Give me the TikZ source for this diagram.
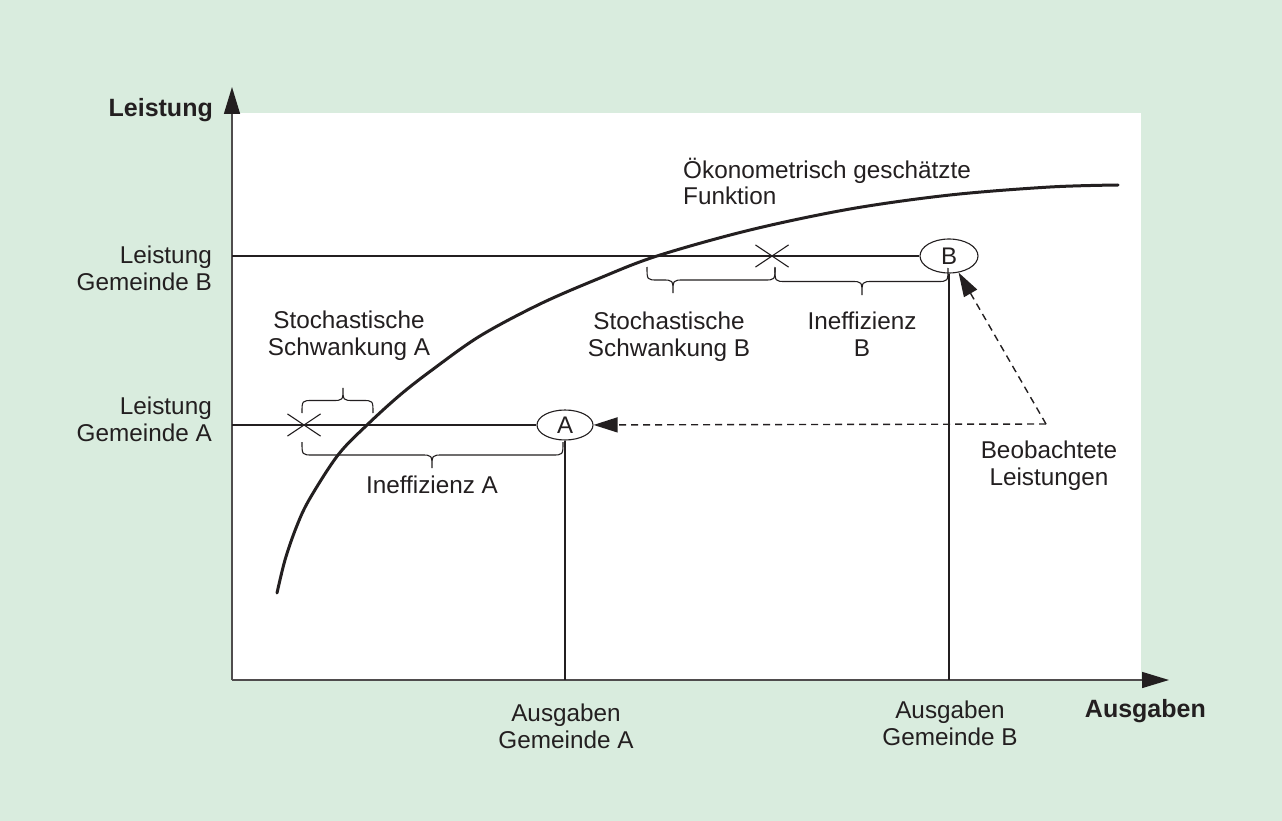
\documentclass[tikz,border=0pt]{standalone}
\usepackage{fontspec}
\setmainfont{Liberation Sans}
\usetikzlibrary{arrows.meta,shapes.geometric,shapes.misc}
\definecolor{bggreen}{RGB}{217,236,222}
\definecolor{ink}{RGB}{35,31,32}
\newcommand\mybrace[5]{%
  \draw[bracestyle] ({#1},{#4}) .. controls ({#1},{#4+(#5)/2}) .. ({#1+11},{#4+(#5)/2})
    -- ({#3-11},{#4+(#5)/2}) .. controls ({#3},{#4+(#5)/2}) .. ({#3},{#4+(#5)})
    .. controls ({#3},{#4+(#5)/2}) .. ({#3+11},{#4+(#5)/2})
    -- ({#2-11},{#4+(#5)/2}) .. controls ({#2},{#4+(#5)/2}) .. ({#2},{#4});}
\begin{document}
\begin{tikzpicture}[x=1pt,y=-1pt,
  every node/.style={text=ink, inner sep=0pt},
  lbl/.style={font=\fontsize{24.3}{27}\selectfont, align=center},
  bold/.style={font=\fontsize{25}{29}\selectfont\bfseries},
  axis/.style={draw=ink!80, line width=1.5pt, -{Triangle[length=27pt,width=16pt,color=ink]}},
  thinline/.style={draw=ink, line width=1.1pt},
  bracestyle/.style={draw=ink, line width=1.1pt},
  curve/.style={draw=ink, line width=3pt, line cap=round},
  obs/.style={draw=ink, line width=1.1pt, ellipse, font=\fontsize{24}{29}\selectfont},
  crossmark/.style={draw=ink, line width=1.1pt, cross out, minimum width=32pt, minimum height=21pt},
  dasharrow/.style={draw=ink, line width=1.4pt, dash pattern=on 7pt off 5pt, -{Triangle[length=24pt,width=15pt]}}]
\useasboundingbox (0,0) rectangle (1282,821);
\fill[bggreen] (0,0) rectangle (1282,821);
\fill[white] (232,113) rectangle (1141,680);

% axes
\coordinate (O) at (232,680);
\coordinate (ytop) at (232,87);
\coordinate (xend) at (1169,680);
\draw[axis] (O) -- (ytop);
\draw[axis] (O) -- (xend);
\node[bold, anchor=base east] (ylab) at (213,117) {Leistung};
\node[bold, anchor=base east] (xlab) at (1206,717) {Ausgaben};

% observed points
\node[obs, minimum width=56pt, minimum height=30pt] (A) at (565,425) {A};
\node[obs, minimum width=58pt, minimum height=34pt] (B) at (949,256) {B};
\coordinate (yA) at (232,425);
\coordinate (yB) at (232,256);
\coordinate (xA) at (565,680);
\coordinate (xB) at (949,680);
\draw[thinline] (yA) -- (A.west);
\draw[thinline] (yB) -- (B.west);
\draw[thinline] (A.south) -- (xA);
\draw[thinline] (B.south) -- (xB);

% crosses
\node[crossmark] (cA) at (304,425) {};
\node[crossmark] (cB) at (772,256) {};

% estimated function
\draw[curve] plot[smooth, tension=0.55] coordinates {(277,593) (285,560) (296,528) (309,500) (338,455) (367,425) (400,395) (432,370) (480,336) (540,304) (600,278) (657,256) (750,230) (850,209) (950,195) (1050,187) (1118,185)};

% braces
\mybrace{302}{373}{343}{413}{-25}
\mybrace{302}{563}{432}{442}{26}
\mybrace{647}{775}{673}{267}{26}
\mybrace{775}{948}{862}{268}{27}

% dashed arrows
\coordinate (P) at (1046,424);
\draw[dasharrow] (P) -- (A);
\draw[dasharrow] (P) -- (B);

% labels (base = baseline of last line)
\node[lbl, align=right, anchor=base east] (lB) at (212,290) {Leistung\\Gemeinde B};
\node[lbl, align=right, anchor=base east] (lA) at (212,441) {Leistung\\Gemeinde A};
\node[lbl, anchor=base] (sA) at (349,355) {Stochastische\\Schwankung A};
\node[lbl, anchor=base] (iA) at (432,493) {Ineffizienz A};
\node[lbl, anchor=base] (sB) at (669,356) {Stochastische\\Schwankung B};
\node[lbl, anchor=base] (iB) at (862,356) {Ineffizienz\\B};
\node[lbl, anchor=base] (obsl) at (1049,485) {Beobachtete\\Leistungen};
\node[lbl, align=left, anchor=base west] (fn) at (683,205) {Ökonometrisch geschätzte\\Funktion};
\node[lbl, anchor=base] (aA) at (566,748) {Ausgaben\\Gemeinde A};
\node[lbl, anchor=base] (aB) at (950,745) {Ausgaben\\Gemeinde B};
\end{tikzpicture}
\end{document}
